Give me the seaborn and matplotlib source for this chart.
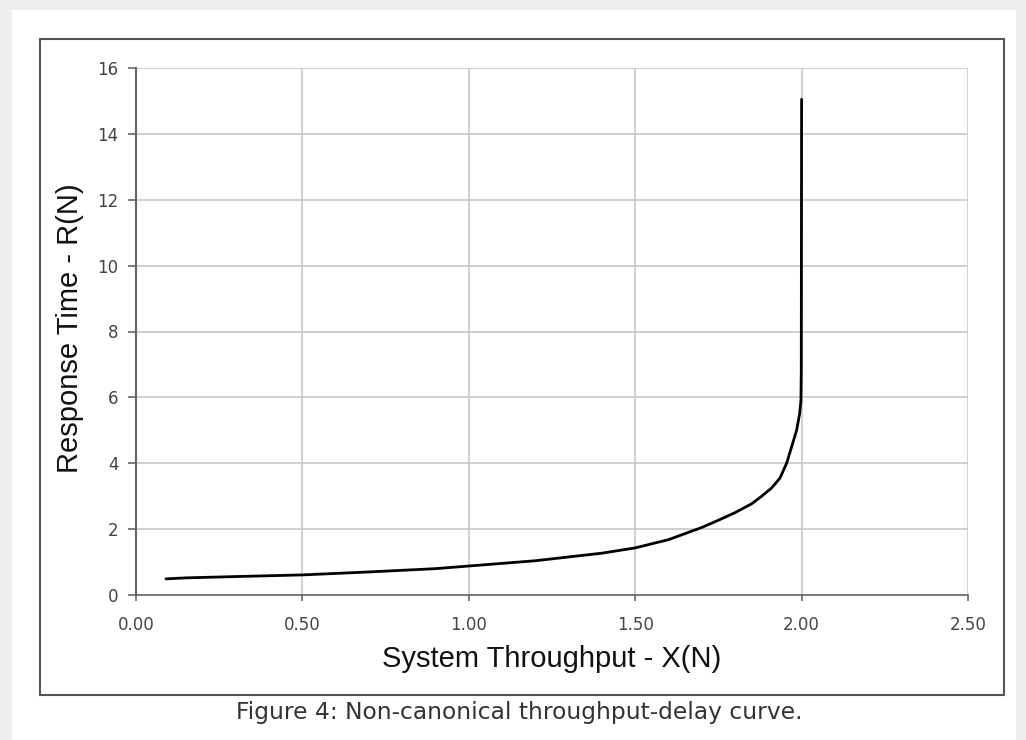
import pandas as pd
import matplotlib
matplotlib.use("Agg")
import matplotlib.pyplot as plt
import seaborn as sns
from matplotlib.patches import Rectangle

# ---------------- Data ---------------- #
throughput = [0.09, 0.15, 0.30, 0.50, 0.70, 0.90, 1.00, 1.20, 1.40, 1.50,
              1.60, 1.70, 1.75, 1.80, 1.85, 1.88, 1.91, 1.935, 1.955, 1.97,
              1.985, 1.994, 1.998, 1.999, 2.00]
response = [0.49, 0.52, 0.56, 0.61, 0.70, 0.80, 0.88, 1.04, 1.27, 1.43,
            1.68, 2.05, 2.27, 2.50, 2.77, 3.00, 3.25, 3.55, 4.00, 4.50,
            5.00, 5.50, 5.90, 6.80, 15.05]
x_ticks = [0.0, 0.5, 1.0, 1.5, 2.0, 2.5]
x_tick_labels = ["0.00", "0.50", "1.00", "1.50", "2.00", "2.50"]
y_ticks = [0, 2, 4, 6, 8, 10, 12, 14, 16]

df = pd.DataFrame({"X": throughput, "R": response})

sns.set_style("white")
plt.rcParams["font.family"] = ["DejaVu Sans"]

W, H = 1026, 740
fig = plt.figure(figsize=(W / 100, H / 100), dpi=100, facecolor="#ededed")

# white page panel and chart frame (pixel coords -> figure fraction)
fig.patches.append(Rectangle((12 / W, 0), (1016 - 12) / W, (H - 10) / H,
                             transform=fig.transFigure, facecolor="white",
                             edgecolor="none", zorder=-2))
fig.patches.append(Rectangle((40 / W, 1 - 695 / H), (1004 - 40) / W, (695 - 39) / H,
                             transform=fig.transFigure, facecolor="none",
                             edgecolor="#555555", lw=1.5, zorder=-1))

ax = fig.add_axes([136 / W, 1 - 595 / H, (968 - 136) / W, (595 - 68) / H])
ax.set_facecolor("none")

sns.lineplot(data=df, x="X", y="R", ax=ax, color="black", lw=2,
             sort=False, estimator=None, zorder=3)

ax.set_xlim(0, 2.5)
ax.set_ylim(0, 16)
ax.set_xticks(x_ticks)
ax.set_xticklabels(x_tick_labels)
ax.set_yticks(y_ticks)
ax.grid(True, color="#c8c8c8", lw=1.2)
ax.set_axisbelow(True)

for side in ["top", "right"]:
    ax.spines[side].set_visible(False)
ax.spines["left"].set_color("#666666")
ax.spines["left"].set_linewidth(1.5)
ax.spines["bottom"].set_color("#666666")
ax.spines["bottom"].set_linewidth(1.2)
ax.spines["bottom"].set_linestyle((0, (2, 1)))

ax.tick_params(axis="both", direction="out", length=6, width=1.2,
               color="#666666", labelsize=12, labelcolor="#444444", pad=6.5)
ax.tick_params(axis="y", left=True)
ax.tick_params(axis="x", bottom=True, length=4, pad=11)

ax.set_xlabel("System Throughput - X(N)", fontsize=21, color="#111111",
              family=["Liberation Sans"])
ax.set_ylabel("Response Time - R(N)", fontsize=21, color="#111111",
              family=["Liberation Sans"])
ax.xaxis.set_label_coords(0.5, -(645 - 595) / 527)
ax.yaxis.set_label_coords((84 - 136) / 832, 0.507)

fig.text(519 / W, 1 - 712 / H, "Figure 4: Non-canonical throughput-delay curve.",
         ha="center", va="center", fontsize=16.8, color="#333333")

fig.savefig("out.png", dpi=100, facecolor=fig.get_facecolor())
